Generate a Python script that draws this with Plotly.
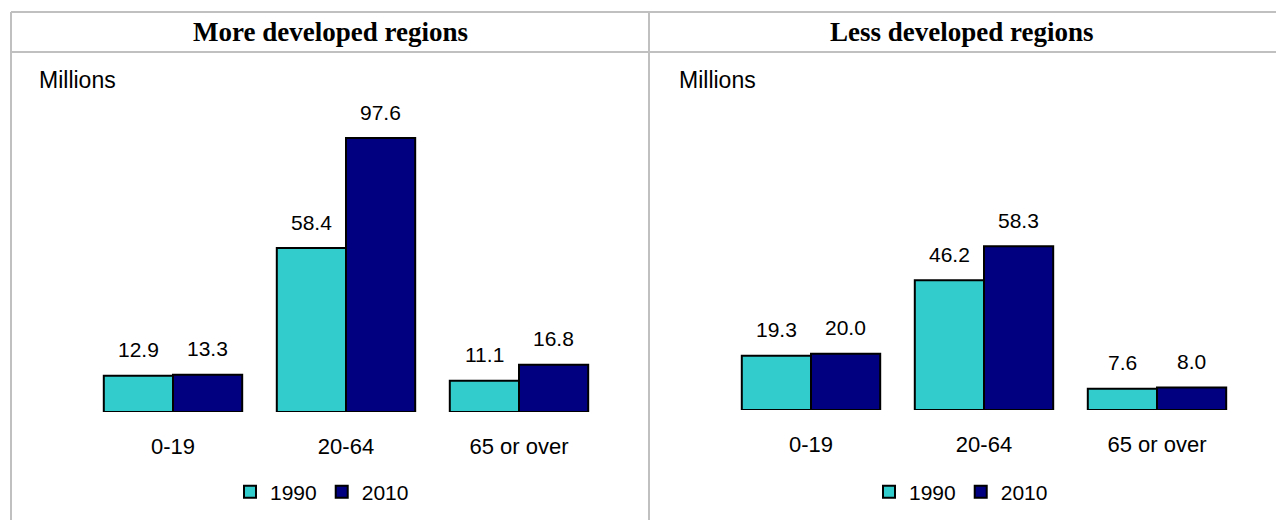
import plotly.graph_objects as go

# Population by broad age group, millions
age_groups = ["0-19", "20-64", "65 or over"]
years = ["1990", "2010"]
more_1990 = [12.9, 58.4, 11.1]
more_2010 = [13.3, 97.6, 16.8]
less_1990 = [19.3, 46.2, 7.6]
less_2010 = [20.0, 58.3, 8.0]
panel_titles = ["More developed regions", "Less developed regions"]
unit_label = "Millions"

W, H = 1276, 520
colors = {"1990": "#33CCCC", "2010": "#000080"}
label_font = dict(family="Liberation Sans, Arial", size=21, color="black")
bargap = 0.2
half = (1 - bargap) / 4  # centre offset of each bar within its group

def px(x):
    return x / W

def py(y):
    return 1 - y / H

fig = go.Figure()

panels = [
    dict(xa="x", ya="y", legend="legend", data={"1990": more_1990, "2010": more_2010}),
    dict(xa="x2", ya="y2", legend="legend2", data={"1990": less_1990, "2010": less_2010}),
]

annotations = []
for p in panels:
    for k, yr in enumerate(years):
        vals = p["data"][yr]
        fig.add_trace(go.Bar(
            x=age_groups, y=vals, name=yr,
            xaxis=p["xa"], yaxis=p["ya"], legend=p["legend"],
            marker=dict(color=colors[yr], line=dict(color="black", width=2)),
            hoverinfo="skip",
        ))
        off = -half if k == 0 else half
        for i, v in enumerate(vals):
            annotations.append(dict(
                x=i + off, y=v, xref=p["xa"], yref=p["ya"],
                text=f"{v:.1f}", showarrow=False, yshift=26,
                font=label_font,
            ))

# Panel headers and unit labels
for title, cx in zip(panel_titles, [330, 962]):
    annotations.append(dict(
        x=px(cx), y=py(32), xref="paper", yref="paper", text=f"<b>{title}</b>",
        showarrow=False, xanchor="center", yanchor="middle",
        font=dict(family="Liberation Serif, Times New Roman", size=27, color="black"),
    ))
for lx in [37, 677]:
    annotations.append(dict(
        x=px(lx), y=py(80), xref="paper", yref="paper", text=unit_label,
        showarrow=False, xanchor="left", yanchor="middle",
        font=dict(label_font, size=23),
    ))

# Table grid lines
grid = dict(color="#C0C0C0", width=2)
shapes = [
    dict(type="line", xref="paper", yref="paper", x0=px(11), x1=1.1, y0=py(12), y1=py(12), line=grid),
    dict(type="line", xref="paper", yref="paper", x0=px(11), x1=1.1, y0=py(52), y1=py(52), line=grid),
    dict(type="line", xref="paper", yref="paper", x0=px(11), x1=px(11), y0=py(12), y1=-0.1, line=grid),
    dict(type="line", xref="paper", yref="paper", x0=px(649), x1=px(649), y0=py(12), y1=-0.1, line=grid),
]

scale = 2.807  # pixels per million
def yaxis(base, top):
    return dict(domain=[py(base), py(top)], range=[0, (base - top) / scale],
                visible=False, fixedrange=True)

xcommon = dict(showgrid=False, zeroline=False, showline=False, ticks="",
               tickfont=dict(label_font, size=22), ticklabelstandoff=19, fixedrange=True)

legend_common = dict(orientation="h", xanchor="center", yanchor="middle",
                     font=label_font, bgcolor="rgba(0,0,0,0)", itemwidth=30,
                     tracegroupgap=0)

fig.update_layout(
    width=W, height=H,
    margin=dict(l=0, r=0, t=0, b=0),
    paper_bgcolor="white", plot_bgcolor="white",
    barmode="group", bargap=bargap, bargroupgap=0,
    xaxis=dict(domain=[px(86.5), px(605.5)], anchor="y", **xcommon),
    xaxis2=dict(domain=[px(724.5), px(1243.5)], anchor="y2", **xcommon),
    yaxis=yaxis(412, 100),
    yaxis2=yaxis(410, 98),
    legend=dict(x=px(322), y=py(492), **legend_common),
    legend2=dict(x=px(961), y=py(492), **legend_common),
    annotations=annotations,
    shapes=shapes,
    showlegend=True,
)

fig.write_html("out.html")
